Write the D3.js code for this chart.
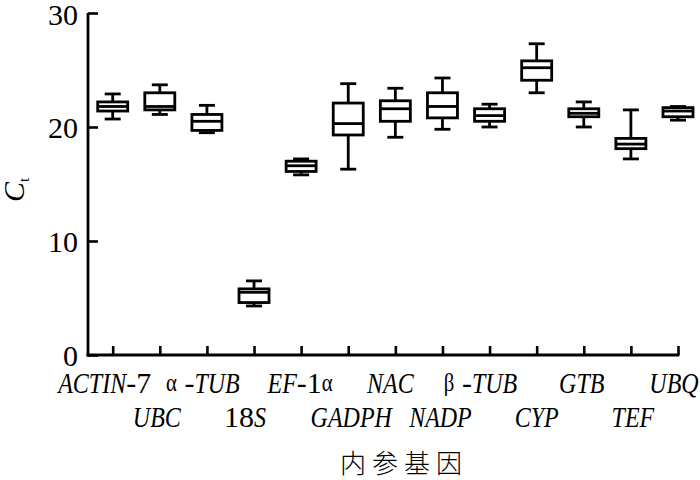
<!DOCTYPE html>
<html><head><meta charset="utf-8">
<script src="https://cdn.jsdelivr.net/npm/d3@7"></script>
<style>html,body{margin:0;padding:0;background:#fff;}svg{display:block;}text{white-space:pre;}</style>
</head><body><svg id="chart" width="700" height="480"></svg>
<script>
// ---- data ----
const categories = ["ACTIN-7","UBC","α-TUB","18S","EF-1α","GADPH","NAC","NADP","β-TUB","CYP","GTB","TEF","UBQ"];
// label pieces: [text, italic?]
const labelParts = [
  [["ACTIN",1],["-7",0]],
  [["UBC",1]],
  [["α",0],["\u00a0-",0],["TUB",1]],
  [["18",0],["S",1]],
  [["EF",1],["-1",0],["α",0]],
  [["GADPH",1]],
  [["NAC",1]],
  [["NADP",1]],
  [["β",0],["\u00a0-",0],["TUB",1]],
  [["CYP",1]],
  [["GTB",1]],
  [["TEF",1]],
  [["UBQ",1]]
];
const whiskerLow  = [20.7, 21.1, 19.5, 4.3, 15.8, 16.3, 19.1, 19.8, 20.0, 23.0, 20.0, 17.2, 20.6];
const q1          = [21.4, 21.5, 19.7, 4.6, 16.1, 19.3, 20.5, 20.8, 20.5, 24.1, 20.9, 18.1, 20.9];
const median      = [21.8, 21.8, 20.5, 5.5, 16.6, 20.3, 21.6, 21.8, 21.0, 25.2, 21.2, 18.5, 21.4];
const q3          = [22.2, 23.0, 21.1, 5.8, 17.0, 22.1, 22.3, 23.0, 21.6, 25.8, 21.6, 19.0, 21.7];
const whiskerHigh = [22.9, 23.7, 21.9, 6.5, 17.2, 23.8, 23.4, 24.3, 22.0, 27.3, 22.2, 21.5, 21.8];
const yTicks = [0, 10, 20, 30];
const yTitle = "C";
const yTitleSub = "t";
const xTitle = "内参基因";

// ---- layout (not data) ----
const labelShift = [-8, -3, -4, -9, -1, 3, -5, -2, -9, 0, -2, 2, -4];
const svg = d3.select("#chart");
const serif = "Liberation Serif, DejaVu Serif, serif";
const x = d3.scalePoint().domain(categories).range([112.7, 678]);
const y = d3.scaleLinear().domain([0, 30]).range([355, 13]);
const axisLeftX = 88;

const g = svg.append("g");
g.append("line").attr("x1", axisLeftX).attr("x2", axisLeftX).attr("y1", y(30)).attr("y2", y(0) + 1.4)
  .attr("stroke", "#000").attr("stroke-width", 2.8);
g.append("line").attr("x1", axisLeftX - 1.4).attr("x2", x(categories[categories.length - 1]) + 1.4).attr("y1", y(0)).attr("y2", y(0))
  .attr("stroke", "#000").attr("stroke-width", 2.8);

// y ticks (inward)
const yAxis = d3.axisRight(y).tickValues(yTicks).tickSize(10).tickFormat("");
const ya = g.append("g").attr("transform", `translate(${axisLeftX},0)`).call(yAxis);
ya.select(".domain").remove();
ya.selectAll("line").attr("stroke", "#000").attr("stroke-width", 2.6);
g.selectAll("text.ytl").data(yTicks).join("text").attr("class", "ytl")
  .attr("x", 78).attr("y", d => y(d) + (d === 30 ? 1 : 0)).attr("dy", "0.35em")
  .attr("text-anchor", "end").attr("font-family", serif).attr("font-size", 30)
  .text(d => d);

// x ticks (inward/up)
const xAxis = d3.axisTop(x).tickSize(9).tickFormat("");
const xa = g.append("g").attr("transform", `translate(0,${y(0)})`).call(xAxis);
xa.select(".domain").remove();
xa.selectAll("line").attr("stroke", "#000").attr("stroke-width", 2.6);

// boxes
const boxW = 30, capW = 16, sw = 2.8;
const boxes = g.selectAll("g.box").data(categories).join("g").attr("class", "box");
boxes.each(function(c, i) {
  const b = d3.select(this);
  const cx = x(c);
  const line = (x1, y1, x2, y2) => b.append("line").attr("x1", x1).attr("y1", y1).attr("x2", x2).attr("y2", y2)
    .attr("stroke", "#000").attr("stroke-width", sw);
  line(cx, y(whiskerHigh[i]), cx, y(q3[i]));
  line(cx, y(q1[i]), cx, y(whiskerLow[i]));
  line(cx - capW / 2, y(whiskerHigh[i]), cx + capW / 2, y(whiskerHigh[i]));
  line(cx - capW / 2, y(whiskerLow[i]), cx + capW / 2, y(whiskerLow[i]));
  b.append("rect").attr("x", cx - boxW / 2).attr("y", y(q3[i])).attr("width", boxW)
    .attr("height", y(q1[i]) - y(q3[i])).attr("fill", "#fff").attr("stroke", "#000").attr("stroke-width", sw);
  line(cx - boxW / 2, y(median[i]), cx + boxW / 2, y(median[i]));
});

// x labels with condensed italic parts
const rowBase = [393, 427];
categories.forEach((c, i) => {
  const lg = g.append("g");
  let cursor = 0;
  labelParts[i].forEach(([t, it]) => {
    const greek = (t === "α" || t === "β");
    const sx = it ? 0.8 : (greek ? 0.8 : 1);
    const tx = lg.append("text").attr("font-family", serif).attr("font-size", greek ? 26 : 30)
      .attr("font-style", it ? "italic" : "normal").text(t);
    const w = tx.node().getComputedTextLength() * sx;
    tx.attr("transform", `translate(${cursor},${greek ? -2 : 0}) scale(${sx},1)`);
    cursor += w;
  });
  let left = x(c) + labelShift[i] - cursor / 2;
  if (left + cursor > 699) left = 699 - cursor;
  lg.attr("transform", `translate(${left},${rowBase[i % 2]})`);
});

// y title
const yt = svg.append("text").attr("transform", "translate(24,190) rotate(-90)")
  .attr("text-anchor", "middle").attr("font-family", serif).attr("font-size", 30);
yt.append("tspan").attr("font-style", "italic").text(yTitle);
yt.append("tspan").attr("font-size", 15).attr("dy", 5).text(yTitleSub);

// x title
svg.append("text").attr("x", 404).attr("y", 473).attr("text-anchor", "middle")
  .attr("font-family", "Noto Sans CJK SC, sans-serif").attr("font-size", 26)
  .attr("letter-spacing", 6).attr("font-weight", 300).text(xTitle);
</script>
</body></html>
